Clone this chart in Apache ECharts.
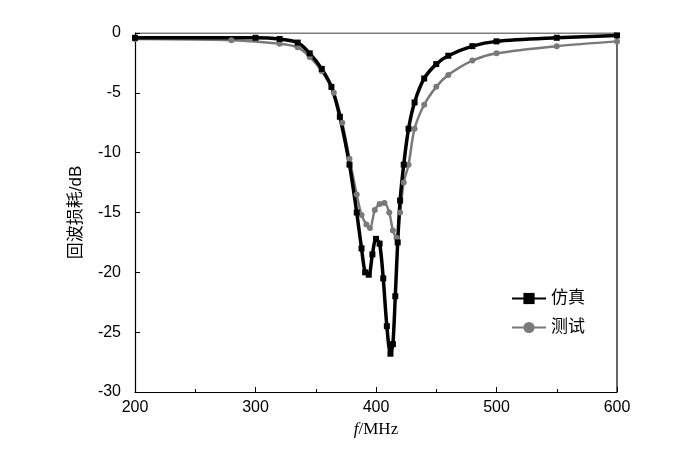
<!DOCTYPE html>
<html>
<head>
<meta charset="utf-8">
<script src="https://cdn.jsdelivr.net/npm/echarts@6/dist/echarts.min.js"></script>
<style>html,body{margin:0;padding:0;background:#fff}#main{width:700px;height:457px}</style>
</head>
<body>
<div id="main"></div>
<script>
// 仿真
var simFreq = [200,300,320,335,345,355,363,370,378,384,388,391,394,397,400,403,406,409,412,414,416,418,420,423,427,432,440,450,460,480,500,550,600];
var simVal  = [-0.4,-0.4,-0.5,-0.8,-1.7,-3,-4.5,-7,-11,-15,-18,-20,-20.2,-18.5,-17.2,-17.6,-20.5,-24.5,-26.8,-26,-22,-17.5,-14,-11,-8,-5.8,-3.8,-2.6,-1.9,-1.1,-0.7,-0.4,-0.2];
// 测试
var measFreq = [200,280,320,335,345,355,365,372,378,384,388,392,395,399,403,407,411,414,417,420,423,427,432,440,450,460,480,500,550,600];
var measVal  = [-0.5,-0.6,-0.9,-1.2,-2,-3.2,-5,-7.5,-10.5,-13.5,-15.2,-16,-16.3,-14.8,-14.3,-14.2,-15,-16.5,-17.1,-15,-12.5,-11,-8,-6,-4.5,-3.5,-2.3,-1.7,-1.1,-0.7];

function pairs(xs, ys){ return xs.map(function(x,i){ return [x, ys[i]]; }); }

var chart = echarts.init(document.getElementById('main'));
var font = '"Liberation Serif","Noto Sans CJK SC",serif';
var sans = '"Liberation Sans","Noto Sans CJK SC",sans-serif';
var option = {
  animation: false,
  grid: { left: 135, right: 83, top: 33, bottom: 65 },
  legend: {
    right: 110, top: 285, orient: 'vertical', itemGap: 12, itemWidth: 34,
    textStyle: { fontSize: 17, color: '#000', fontFamily: sans },
    data: ['仿真', '测试']
  },
  xAxis: {
    type: 'value', min: 200, max: 600, interval: 100,
    name: '{i|f}/MHz', nameLocation: 'middle', nameGap: 28,
    nameTextStyle: { fontSize: 17, color: '#000', fontFamily: font, rich: { i: { fontStyle: 'italic', fontSize: 17, fontFamily: font } } },
    axisLine: { onZero: false, lineStyle: { color: '#000', width: 1.2 } },
    axisTick: { inside: true, length: 5, lineStyle: { color: '#000' } },
    minorTick: { show: true, splitNumber: 2, length: 3, lineStyle: { color: '#000' } },
    axisLabel: { fontSize: 16, color: '#000', fontFamily: sans },
    splitLine: { show: false }
  },
  yAxis: {
    type: 'value', min: -30, max: 0, interval: 5,
    name: '回波损耗/dB', nameLocation: 'middle', nameGap: 50,
    nameTextStyle: { fontSize: 17, color: '#000', fontFamily: sans },
    axisLine: { show: true, lineStyle: { color: '#000', width: 1.2 } },
    axisTick: { inside: true, length: 5, lineStyle: { color: '#000' } },
    axisLabel: { fontSize: 16, color: '#000', fontFamily: sans, margin: 14 },
    splitLine: { show: false }
  },
  series: [
    {
      name: '测试', type: 'line', smooth: 0.3, data: pairs(measFreq, measVal),
      symbol: 'circle', symbolSize: 6,
      itemStyle: { color: '#7a7a7a' }, lineStyle: { color: '#7a7a7a', width: 2.5 }
    },
    {
      name: '仿真', type: 'line', smooth: 0.3, data: pairs(simFreq, simVal),
      symbol: 'rect', symbolSize: 6,
      itemStyle: { color: '#000' }, lineStyle: { color: '#000', width: 3.5 }
    },
    {
      type: 'line', data: [[200, 0], [600, 0]], symbol: 'none', silent: true,
      lineStyle: { color: '#000', width: 1.2 }, z: 1
    },
    {
      type: 'line', data: [[600, 0], [600, -30]], symbol: 'none', silent: true,
      lineStyle: { color: '#000', width: 1.2 }, z: 1
    }
  ]
};
chart.setOption(option);
</script>
</body>
</html>
